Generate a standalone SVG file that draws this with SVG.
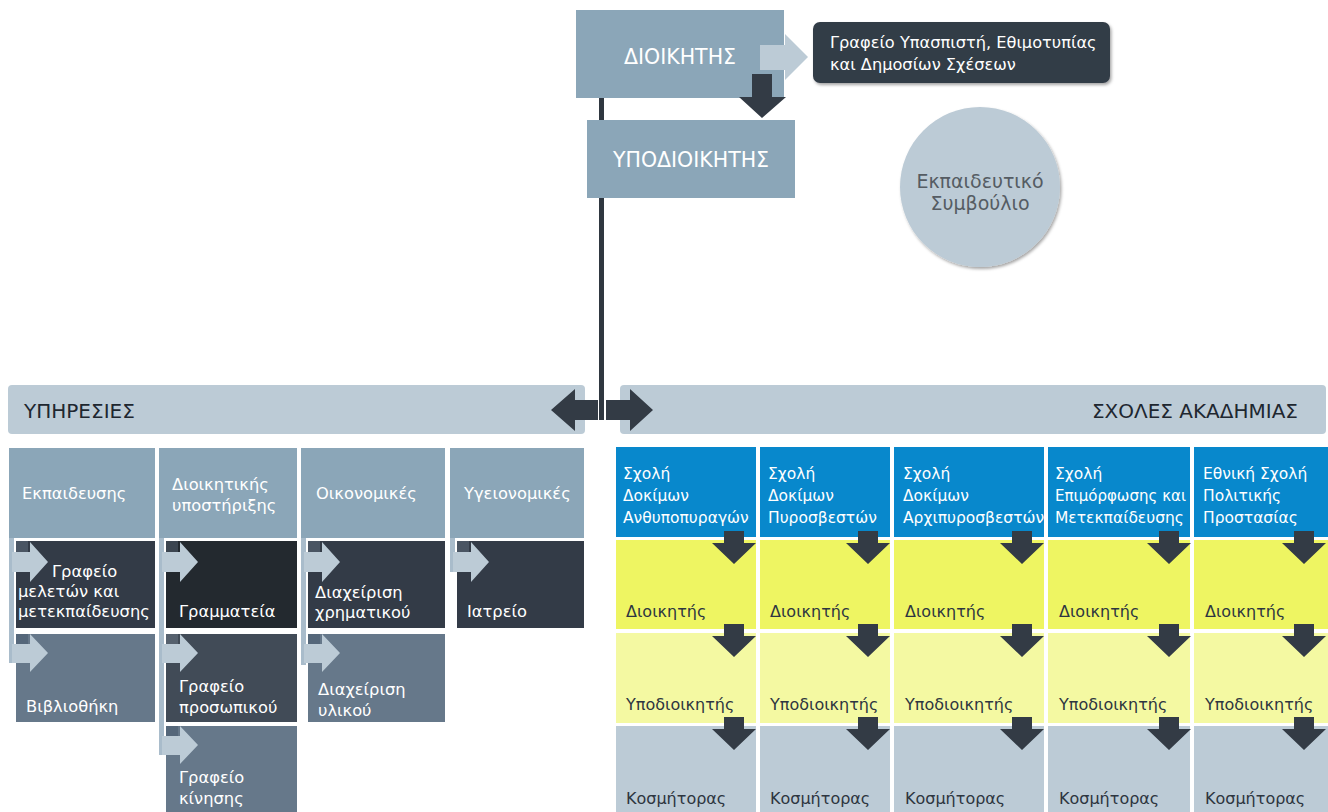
<svg xmlns="http://www.w3.org/2000/svg" width="1328" height="812" viewBox="0 0 1328 812">
<defs>
<filter id="sh" x="-10%" y="-10%" width="125%" height="130%"><feDropShadow dx="1.5" dy="2" stdDeviation="1.5" flood-color="#000" flood-opacity="0.35"/></filter>
<style>
text{font-family:"DejaVu Sans","Liberation Sans",sans-serif;}
.w{fill:#ffffff;}
.d{fill:#2d3540;}
.hb{fill:#8ba6b8;}
.bar{fill:#bccbd6;}
.da{fill:#333b45;}
.la{fill:#bccbd6;}
.strip{fill:#a9bccb;}
.sc{fill:#0888cc;}
.y1{fill:#eef562;}
.y2{fill:#f4f9a2;}
.g1{fill:#bccbd6;}
.t16{font-size:15.5px;}
.s16{font-size:16.3px;}
.r16{font-size:16px;}
.t18{font-size:20.5px;}
.h17{font-size:20px;}
</style>
</defs>
<rect width="1328" height="812" fill="#ffffff"/>

<g id="dioikitis"><rect class="hb" x="576" y="10" width="208" height="88"/><text class="w t18" x="680" y="64" text-anchor="middle">ΔΙΟΙΚΗΤΗΣ</text></g>
<g id="ypodioikitis"><rect class="hb" x="587" y="120" width="208" height="78"/><text class="w t18" x="691" y="167" text-anchor="middle">ΥΠΟΔΙΟΙΚΗΤΗΣ</text></g>
<g id="grafeio-ypaspisti"><rect x="813" y="22" width="297" height="61" rx="7" fill="#333c46" filter="url(#sh)"/><text class="w" font-size="16.2" x="830" y="48">Γραφείο Υπασπιστή, Εθιμοτυπίας</text><text class="w" font-size="16.2" x="830" y="70">και Δημοσίων Σχέσεων</text></g>
<g id="ekp-symvoulio"><circle cx="980" cy="187" r="80" fill="#bccbd6" filter="url(#sh)"/><text x="980" y="188" font-size="19" fill="#555c63" text-anchor="middle">Εκπαιδευτικό</text><text x="980" y="210" font-size="19" fill="#555c63" text-anchor="middle">Συμβούλιο</text></g>

<g id="ypiresies"><rect class="bar" x="8" y="385" width="577" height="49" rx="4"/><text class="h17" x="24" y="418" fill="#1e2730">ΥΠΗΡΕΣΙΕΣ</text></g>
<g id="sxoles"><rect class="bar" x="620" y="385" width="706" height="49" rx="4"/><text class="h17" x="1298" y="418" fill="#1e2730" text-anchor="end">ΣΧΟΛΕΣ ΑΚΑΔΗΜΙΑΣ</text></g>

<!-- Services -->
<g id="ekpaideusis"><rect class="hb" x="9" y="448" width="146" height="90"/><text class="w s16" x="22" y="499">Εκπαιδευσης</text></g>
<g id="dioikitikis"><rect class="hb" x="159" y="448" width="138" height="90"/><text class="w s16" x="172" y="490">Διοικητικής</text><text class="w s16" x="172" y="511">υποστήριξης</text></g>
<g id="oikonomikes"><rect class="hb" x="301" y="448" width="144" height="90"/><text class="w s16" x="316" y="499">Οικονομικές</text></g>
<g id="ygeionomikes"><rect class="hb" x="450" y="448" width="134" height="90"/><text class="w s16" x="464" y="499">Υγειονομικές</text></g>

<g id="strips">
<rect class="strip" x="9" y="538" width="5" height="125"/>
<rect class="strip" x="159" y="538" width="5" height="217"/>
<rect class="strip" x="301" y="538" width="5" height="127"/>
<rect class="strip" x="450" y="538" width="5" height="34"/>
</g>

<g id="grafeio-meleton"><rect x="16" y="541" width="139" height="87" fill="#333b47"/><rect x="16" y="541" width="12" height="11" fill="#4a5563"/><path class="la" d="M12,552 H30 V542 L48,562 L30,582 V572 H12 Z"/><text class="w s16" x="52" y="577">Γραφείο</text><text class="w s16" x="18" y="597">μελετών και</text><text class="w s16" x="18" y="617">μετεκπαίδευσης</text></g>
<g id="vivliothiki"><rect x="16" y="634" width="139" height="88" fill="#66788a"/><rect x="16" y="634" width="12" height="10" fill="#55677a"/><path class="la" d="M12,644 H30 V634 L48,653 L30,672 V663 H12 Z"/><text class="w s16" x="26" y="712">Βιβλιοθήκη</text></g>

<g id="grammateia"><rect x="166" y="541" width="131" height="87" fill="#23292f"/><rect x="166" y="541" width="12" height="11" fill="#3c4550"/><path class="la" d="M162,552 H180 V542 L198,562 L180,582 V572 H162 Z"/><text class="w s16" x="179" y="617">Γραμματεία</text></g>
<g id="grafeio-prosopikou"><rect x="166" y="634" width="131" height="88" fill="#414b57"/><rect x="166" y="634" width="12" height="10" fill="#56616e"/><path class="la" d="M162,644 H180 V634 L198,653 L180,672 V663 H162 Z"/><text class="w s16" x="179" y="692">Γραφείο</text><text class="w s16" x="179" y="713">προσωπικού</text></g>
<g id="grafeio-kinisis"><rect x="166" y="726" width="131" height="86" fill="#66788a"/><rect x="166" y="726" width="12" height="10" fill="#55677a"/><path class="la" d="M162,736 H180 V726 L198,745 L180,764 V755 H162 Z"/><text class="w s16" x="179" y="783">Γραφείο</text><text class="w s16" x="179" y="804">κίνησης</text></g>

<g id="diax-xrimatikou"><rect x="308" y="541" width="137" height="87" fill="#333b47"/><rect x="308" y="541" width="12" height="11" fill="#4a5563"/><path class="la" d="M304,552 H322 V542 L340,562 L322,582 V572 H304 Z"/><text class="w s16" x="315" y="598">Διαχείριση</text><text class="w s16" x="315" y="618">χρηματικού</text></g>
<g id="diax-ylikou"><rect x="308" y="634" width="137" height="88" fill="#66788a"/><rect x="308" y="634" width="12" height="10" fill="#55677a"/><path class="la" d="M304,644 H322 V634 L340,653 L322,672 V663 H304 Z"/><text class="w s16" x="318" y="695">Διαχείριση</text><text class="w s16" x="318" y="716">υλικού</text></g>

<g id="iatreio"><rect x="457" y="541" width="127" height="87" fill="#333b47"/><rect x="457" y="541" width="12" height="11" fill="#4a5563"/><path class="la" d="M453,552 H471 V542 L489,562 L471,582 V572 H453 Z"/><text class="w s16" x="467" y="617">Ιατρείο</text></g>

<!-- Schools -->
<g id="sxoli-anthypopyragon">
<rect class="sc" x="616" y="447" width="140" height="90"/><text class="w t16" x="623" y="479">Σχολή</text><text class="w t16" x="623" y="501">Δοκίμων</text><text class="w t16" x="623" y="523">Ανθυποπυραγών</text>
<rect class="y1" x="616" y="540" width="140" height="89"/><text class="d r16" x="626" y="617">Διοικητής</text>
<rect class="y2" x="616" y="633" width="140" height="90"/><text class="d r16" x="626" y="710">Υποδιοικητής</text>
<rect class="g1" x="616" y="726" width="140" height="86"/><text class="d r16" x="626" y="804">Κοσμήτορας</text>
</g>
<g id="sxoli-pyrosvestwn">
<rect class="sc" x="760" y="447" width="130" height="90"/><text class="w t16" x="768" y="479">Σχολή</text><text class="w t16" x="768" y="501">Δοκίμων</text><text class="w t16" x="768" y="523">Πυροσβεστών</text>
<rect class="y1" x="760" y="540" width="130" height="89"/><text class="d r16" x="770" y="617">Διοικητής</text>
<rect class="y2" x="760" y="633" width="130" height="90"/><text class="d r16" x="770" y="710">Υποδιοικητής</text>
<rect class="g1" x="760" y="726" width="130" height="86"/><text class="d r16" x="770" y="804">Κοσμήτορας</text>
</g>
<g id="sxoli-arxipyrosvestwn">
<rect class="sc" x="894" y="447" width="150" height="90"/><text class="w t16" x="903" y="479">Σχολή</text><text class="w t16" x="903" y="501">Δοκίμων</text><text class="w t16" x="903" y="523">Αρχιπυροσβεστών</text>
<rect class="y1" x="894" y="540" width="150" height="89"/><text class="d r16" x="905" y="617">Διοικητής</text>
<rect class="y2" x="894" y="633" width="150" height="90"/><text class="d r16" x="905" y="710">Υποδιοικητής</text>
<rect class="g1" x="894" y="726" width="150" height="86"/><text class="d r16" x="905" y="804">Κοσμήτορας</text>
</g>
<g id="sxoli-epimorfosis">
<rect class="sc" x="1048" y="447" width="142" height="90"/><text class="w t16" x="1055" y="479">Σχολή</text><text class="w t16" x="1055" y="501" textLength="131" lengthAdjust="spacingAndGlyphs">Επιμόρφωσης και</text><text class="w t16" x="1055" y="523">Μετεκπαίδευσης</text>
<rect class="y1" x="1048" y="540" width="142" height="89"/><text class="d r16" x="1059" y="617">Διοικητής</text>
<rect class="y2" x="1048" y="633" width="142" height="90"/><text class="d r16" x="1059" y="710">Υποδιοικητής</text>
<rect class="g1" x="1048" y="726" width="142" height="86"/><text class="d r16" x="1059" y="804">Κοσμήτορας</text>
</g>
<g id="ethniki-sxoli">
<rect class="sc" x="1194" y="447" width="134" height="90"/><text class="w t16" x="1203" y="479">Εθνική Σχολή</text><text class="w t16" x="1203" y="501">Πολιτικής</text><text class="w t16" x="1203" y="523">Προστασίας</text>
<rect class="y1" x="1194" y="540" width="134" height="89"/><text class="d r16" x="1205" y="617">Διοικητής</text>
<rect class="y2" x="1194" y="633" width="134" height="90"/><text class="d r16" x="1205" y="710">Υποδιοικητής</text>
<rect class="g1" x="1194" y="726" width="134" height="86"/><text class="d r16" x="1205" y="804">Κοσμήτορας</text>
</g>

<g id="connectors">
<rect x="599" y="98" width="5" height="22" fill="#2f3740"/>
<rect x="599" y="198" width="5" height="222" fill="#2f3740"/>
<path class="la" d="M760,45 H785 V34 L808,57 L785,80 V70 H760 Z"/>
<path class="da" d="M752,74 H772 V97 H786 L762,118 L739,97 H752 Z"/>
<path class="da" d="M598,400 H575 V389 L551,410 L575,431 V420 H598 Z"/>
<path class="da" d="M606,400 H630 V389 L653,410 L630,431 V420 H606 Z"/>
</g>

<g id="school-arrows" class="da">
<path d="M724,531 H744 V543 H756 L734,564 L712,543 H724 Z"/>
<path d="M724,624 H744 V636 H756 L734,657 L712,636 H724 Z"/>
<path d="M724,717 H744 V729 H756 L734,750 L712,729 H724 Z"/>
<path d="M858,531 H878 V543 H890 L868,564 L846,543 H858 Z"/>
<path d="M858,624 H878 V636 H890 L868,657 L846,636 H858 Z"/>
<path d="M858,717 H878 V729 H890 L868,750 L846,729 H858 Z"/>
<path d="M1012,531 H1032 V543 H1044 L1022,564 L1000,543 H1012 Z"/>
<path d="M1012,624 H1032 V636 H1044 L1022,657 L1000,636 H1012 Z"/>
<path d="M1012,717 H1032 V729 H1044 L1022,750 L1000,729 H1012 Z"/>
<path d="M1159,531 H1179 V543 H1191 L1169,564 L1147,543 H1159 Z"/>
<path d="M1159,624 H1179 V636 H1191 L1169,657 L1147,636 H1159 Z"/>
<path d="M1159,717 H1179 V729 H1191 L1169,750 L1147,729 H1159 Z"/>
<path d="M1294,531 H1314 V543 H1326 L1304,564 L1282,543 H1294 Z"/>
<path d="M1294,624 H1314 V636 H1326 L1304,657 L1282,636 H1294 Z"/>
<path d="M1294,717 H1314 V729 H1326 L1304,750 L1282,729 H1294 Z"/>
</g>
</svg>
